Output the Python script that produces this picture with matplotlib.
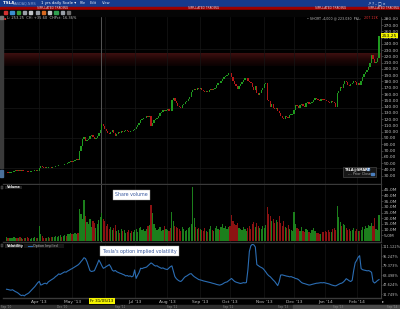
import numpy as np
import pandas as pd
import matplotlib
matplotlib.use("Agg")
import matplotlib.pyplot as plt
from matplotlib.colors import LinearSegmentedColormap
from matplotlib.patches import Rectangle

# trading days on the chart: Feb 27 2013 .. Feb 25 2014
holidays = ["2013-03-29", "2013-05-27", "2013-07-04", "2013-09-02", "2013-11-28",
            "2013-12-25", "2014-01-01", "2014-01-20", "2014-02-17"]
dates = pd.bdate_range("2013-02-27", "2014-02-25")
dates = dates[~dates.isin(pd.to_datetime(holidays))]

# daily closes (USD), month by month
close_feb = [34.8, 34.2]
close_mar = [34.4, 35.0, 36.2, 37.5, 38.1, 37.7, 38.4, 37.9, 38.0, 37.6, 37.1, 37.4, 36.2, 35.8,
             36.3, 36.9, 37.4, 38.0, 37.3, 37.9]
close_apr = [42.8, 44.5, 43.1, 42.4, 42.2, 42.7, 43.3, 43.0, 42.8, 43.5, 44.2, 45.1, 45.6, 46.4,
             47.0, 46.5, 47.6, 48.9, 48.3, 50.1, 51.6, 53.9]
close_may = [52.0, 53.3, 54.6, 55.8, 55.0, 69.4, 76.8, 87.8, 92.3, 84.8, 87.2, 89.1, 92.4, 94.6,
             91.5, 88.6, 90.3, 93.2, 97.8, 102.3, 112.5, 108.4]
close_jun = [104.7, 100.5, 97.3, 95.8, 99.4, 102.1, 98.6, 93.2, 96.0, 99.1, 97.5, 101.4, 99.2,
             100.9, 103.2, 101.3, 99.0, 101.8, 100.4, 102.7]
close_jul = [104.5, 107.9, 110.2, 113.6, 118.3, 119.8, 121.4, 122.6, 124.9, 123.2, 125.6, 109.8,
             114.6, 119.3, 120.8, 122.5, 125.7, 129.4, 131.2, 133.8, 132.6, 134.9]
close_aug = [135.7, 133.4, 132.6, 149.8, 153.5, 149.2, 145.7, 141.3, 139.6, 137.9, 141.8, 144.6,
             147.2, 149.5, 151.7, 155.3, 162.8, 166.9, 168.4, 167.1, 169.3, 168.2]
close_sep = [169.0, 166.4, 164.2, 162.7, 165.1, 163.6, 166.8, 168.3, 165.9, 167.4, 170.2, 174.8,
             178.3, 177.1, 180.6, 183.5, 186.4, 188.1, 190.9, 193.4]
close_oct = [193.0, 187.5, 181.2, 176.8, 173.4, 168.1, 172.6, 176.2, 179.4, 182.8, 184.9, 185.7,
             181.3, 178.6, 176.9, 171.2, 165.8, 172.4, 160.9, 158.2, 162.3, 166.7, 170.4]
close_nov = [176.8, 177.5, 151.2, 148.3, 139.8, 143.6, 137.2, 135.9, 137.8, 132.4, 129.1, 125.3,
             121.6, 120.2, 124.4, 122.8, 121.5, 126.7, 127.3, 128.9]
close_dec = [134.6, 141.8, 140.6, 137.4, 142.3, 144.1, 141.5, 139.8, 145.6, 147.3, 143.9, 145.8,
             147.9, 151.2, 153.6, 152.1, 150.4, 149.6, 151.3, 150.5, 150.4]
close_jan = [149.8, 149.6, 147.2, 145.9, 149.3, 148.1, 145.7, 139.3, 161.3, 164.1, 171.5, 170.0,
             176.7, 180.9, 178.6, 174.6, 172.2, 175.5, 178.3, 181.4, 179.8]
close_feb14 = [174.6, 178.2, 175.1, 180.4, 187.6, 191.3, 195.8, 198.9, 203.7, 210.2, 222.4, 215.6,
               209.6, 211.2, 217.65, 253.25]
first_open = 34.0

# share volume (millions)
vol_feb = [3.1, 2.6]
vol_mar = [2.4, 3.0, 2.8, 3.5, 2.9, 2.2, 2.6, 3.1, 2.4, 2.0, 2.7, 2.5, 3.3, 2.8, 2.1, 2.4, 2.9,
           3.2, 2.6, 2.3]
vol_apr = [13.2, 6.1, 4.2, 3.0, 2.6, 2.4, 3.5, 2.8, 3.1, 3.9, 3.3, 4.4, 3.8, 4.1, 4.9, 3.6, 4.5,
           5.2, 4.1, 5.8, 6.4, 7.3]
vol_may = [6.2, 5.7, 6.9, 5.8, 7.4, 27.8, 24.1, 19.5, 36.2, 22.3, 16.8, 14.5, 19.1, 12.4, 17.3,
           15.6, 11.8, 14.7, 18.2, 21.3, 24.6, 19.4]
vol_jun = [17.5, 13.2, 15.1, 10.6, 12.4, 9.3, 11.1, 13.6, 8.8, 9.7, 7.4, 10.5, 8.6, 9.9, 7.2, 8.1,
           9.4, 6.8, 8.9, 7.6]
vol_jul = [9.8, 10.6, 8.3, 11.2, 12.7, 9.4, 10.8, 8.7, 10.1, 12.9, 14.2, 31.6, 24.3, 14.8, 11.6,
           9.3, 10.7, 12.4, 8.9, 9.6, 13.1, 10.2]
vol_aug = [9.7, 8.8, 11.4, 25.7, 17.6, 13.4, 12.5, 11.8, 10.3, 9.1, 12.6, 10.4, 8.7, 9.8, 11.3,
           12.1, 14.5, 47.2, 19.8, 12.4, 10.8, 11.6]
vol_sep = [10.2, 9.4, 8.7, 11.5, 9.1, 8.3, 10.6, 12.8, 9.7, 8.9, 11.2, 13.4, 10.1, 9.5, 12.3, 14.6,
           11.7, 13.2, 10.8, 12.5]
vol_oct = [12.8, 23.1, 17.4, 15.2, 13.8, 15.9, 11.4, 10.7, 9.6, 12.2, 10.3, 9.1, 11.8, 13.5, 10.9,
           14.7, 16.3, 12.1, 15.8, 13.2, 11.6, 10.4, 12.9]
vol_nov = [11.3, 14.2, 29.6, 24.1, 21.5, 17.2, 19.4, 15.8, 18.6, 16.3, 22.1, 15.4, 13.2, 17.8, 12.6,
           11.4, 13.9, 10.5, 9.8, 8.6]
vol_dec = [25.2, 15.1, 11.8, 10.4, 9.2, 12.6, 8.9, 7.8, 10.3, 9.6, 8.1, 7.4, 9.9, 11.2, 8.6, 7.3,
           6.9, 5.8, 6.4, 7.9, 8.2]
vol_jan = [8.5, 7.9, 9.3, 8.1, 7.6, 10.2, 11.8, 9.4, 30.7, 21.4, 16.5, 12.8, 15.1, 14.3, 11.2, 9.7,
           10.6, 8.9, 9.8, 11.4, 8.7]
vol_feb14 = [10.3, 9.1, 8.6, 9.8, 12.4, 10.7, 13.5, 11.2, 14.1, 12.8, 15.6, 13.4, 19.8, 10.7, 9.6,
             22.4]

# option implied volatility (%)
iv_feb = [40.2, 39.8]
iv_mar = [39.1, 38.6, 39.4, 37.8, 36.2, 35.1, 33.4, 31.2, 29.6, 30.4, 29.1, 31.3, 32.5, 34.1, 36.8,
          39.5, 42.0, 44.6, 47.9, 51.2]
iv_apr = [53.4, 47.2, 48.1, 49.6, 50.3, 49.1, 52.4, 54.2, 55.8, 57.3, 59.1, 61.5, 63.2, 65.8, 64.9,
          66.4, 67.8, 69.2, 68.7, 70.5, 71.8, 73.4]
iv_may = [74.6, 76.2, 77.9, 79.4, 80.8, 83.1, 86.4, 89.2, 92.8, 91.4, 86.2, 78.5, 71.3, 69.8, 70.4,
          71.2, 76.8, 82.5, 88.9, 84.6, 79.3, 75.1]
iv_jun = [76.4, 78.2, 79.6, 81.3, 77.4, 72.1, 70.3, 71.6, 69.4, 68.2, 67.1, 66.3, 65.1, 64.2, 62.4,
          63.1, 61.8, 62.5, 60.9, 62.2]
iv_jul = [72.4, 58.3, 63.5, 68.1, 75.2, 74.6, 75.8, 76.4, 77.2, 79.6, 81.8, 84.1, 82.6, 80.3, 78.9,
          79.4, 77.6, 76.3, 75.1, 75.8, 74.4, 73.6]
iv_aug = [73.1, 75.6, 77.8, 79.2, 70.4, 61.3, 57.8, 55.6, 53.9, 53.2, 55.4, 58.7, 61.2, 62.4, 64.1,
          65.8, 66.2, 63.4, 61.2, 59.6, 57.8, 56.4]
iv_sep = [55.8, 55.1, 54.2, 53.6, 53.1, 52.4, 51.8, 51.2, 50.4, 49.8, 49.1, 48.2, 47.6, 47.1, 47.8,
          48.9, 50.6, 51.8, 52.4, 54.3]
iv_oct = [56.1, 58.2, 55.7, 53.4, 52.1, 51.3, 50.6, 49.8, 50.4, 51.2, 50.8, 51.4, 72.6, 103.5,
          112.8, 115.1, 114.2, 110.6, 81.4, 79.6, 77.8, 76.4, 75.1]
iv_nov = [72.3, 69.1, 65.4, 62.8, 61.1, 58.3, 55.6, 53.2, 49.7, 46.3, 52.8, 63.9, 64.2, 63.5, 62.8,
          62.1, 61.7, 60.9, 61.3, 60.2]
iv_dec = [59.4, 58.1, 57.6, 56.2, 53.8, 51.4, 50.2, 49.6, 48.8, 47.9, 47.2, 47.5, 48.3, 48.9, 49.6,
          50.2, 50.4, 50.8, 51.2, 50.9, 51.3]
iv_jan = [50.7, 50.1, 49.4, 48.6, 47.5, 46.8, 46.1, 45.9, 47.2, 48.6, 49.8, 50.4, 52.1, 54.6, 57.8,
          56.2, 54.3, 53.1, 55.2, 71.5, 84.3]
iv_feb14 = [88.4, 93.5, 96.2, 74.6, 72.8, 72.1, 71.6, 70.9, 71.3, 70.2, 68.4, 53.1, 50.6, 52.4,
            54.8, 56.3]

price_ticks = list(range(30, 290, 10))
volume_ticks = [5, 10, 15, 20, 25, 30, 35, 40, 45]
iv_ticks = [31.749, 47.624, 63.498, 79.373, 95.247, 111.122]

closes = np.array(close_feb + close_mar + close_apr + close_may + close_jun + close_jul + close_aug
                  + close_sep + close_oct + close_nov + close_dec + close_jan + close_feb14)
volume = np.array(vol_feb + vol_mar + vol_apr + vol_may + vol_jun + vol_jul + vol_aug + vol_sep
                  + vol_oct + vol_nov + vol_dec + vol_jan + vol_feb14)
iv = np.array(iv_feb + iv_mar + iv_apr + iv_may + iv_jun + iv_jul + iv_aug + iv_sep + iv_oct
              + iv_nov + iv_dec + iv_jan + iv_feb14)
n = len(dates)
closes, volume, iv = closes[:n], volume[:n], iv[:n]
idx = np.arange(n)

opens = np.r_[first_open, closes[:-1]]     # each bar opens at the prior close
up = closes >= opens
GREEN, RED = "#1f9a1f", "#b51818"
VGREEN, VRED = "#1c7f1c", "#8c1212"
TXT = "#bdbdbd"

# bar index of the first session of every month, for the date axis
month_first = pd.Series(idx, index=dates).groupby(dates.to_period("M")).first()
month_first = month_first[month_first.index >= pd.Period("2013-04", "M")]
month_labels = [p.strftime("%b '%y") for p in month_first.index]

XMIN, XMAX = -2.35, 251.0

fig = plt.figure(figsize=(4, 3.09), dpi=100, facecolor="black")


def frame(top, bottom, left=3, right=380.5):
    return [left / 400, 1 - bottom / 309, (right - left) / 400, (bottom - top) / 309]


ax1 = fig.add_axes(frame(16, 183.5))
ax2 = fig.add_axes(frame(184.5, 242))
ax3 = fig.add_axes(frame(243.5, 298))

# resistance band behind the candles
band = LinearSegmentedColormap.from_list("band", ["#0a0202", "#1e0606", "#3e1010"])
ax1.imshow(np.linspace(0, 1, 60).reshape(-1, 1), extent=(XMIN, XMAX, 204, 223.5), origin="lower",
           cmap=band, aspect="auto", zorder=0)

# candles
ax1.bar(idx, np.maximum(np.abs(closes - opens), 0.9), bottom=np.minimum(opens, closes), width=0.85,
        color=np.where(up, GREEN, RED), linewidth=0, zorder=3)
ax1.set_ylim(17.4, 284.4)
ax1.set_yticks(price_ticks, [f"{v:.2f}" for v in price_ticks])
for g in [42.5, 90, 137.5, 185, 232.5]:
    ax1.axhline(g, color="#171717", lw=0.5, zorder=1)

# volume bars
ax2.bar(idx, volume, width=0.8, color=np.where(up, VGREEN, VRED), linewidth=0, zorder=3)
ax2.set_ylim(-0.9, 49.6)
ax2.set_yticks(volume_ticks, [f"{v:.1f}M" for v in volume_ticks])

# implied volatility
ax3.plot(idx, iv, color="#2b6db3", lw=0.8, zorder=3)
ax3.set_ylim(25.6, 116.5)
ax3.set_yticks(iv_ticks, [f"{v:.3f}%" for v in iv_ticks])

for ax in (ax1, ax2, ax3):
    ax.set_facecolor("black")
    ax.set_xlim(XMIN, XMAX)
    ax.yaxis.tick_right()
    ax.tick_params(axis="y", colors="#666666", labelcolor=TXT, labelsize=3.2, length=1.2,
                   width=0.4, pad=1)
    ax.tick_params(axis="x", length=0, labelsize=3.2, labelcolor=TXT, pad=1.2)
    for s in ("left", "top"):
        ax.spines[s].set_visible(False)
    ax.spines["right"].set_color("#4a4a4a")
    ax.spines["right"].set_linewidth(0.6)
    ax.spines["bottom"].set_color("#3a3a3a")
    ax.spines["bottom"].set_linewidth(1.0)
    for m in month_first.values:
        ax.axvline(m, color="#161616", lw=0.5, zorder=1)

for ax in (ax1, ax2):
    ax.axvline(63.4, color="#555555", lw=0.7, zorder=2)   # crosshair

ax3.tick_params(axis="y", labelsize=2.5, length=0.8, pad=0.6)

ax1.set_xticks([])
ax2.set_xticks([])
ax3.set_xticks(month_first.values, [("" if l == "Jun '13" else l) for l in month_labels])

# current price tag on the price axis
ax1.text(1.004, closes[-1], f"{closes[-1]:.2f}", transform=ax1.get_yaxis_transform(),
         fontsize=3.2, color="black", va="center", ha="left",
         bbox=dict(boxstyle="square,pad=0.15", fc="#f2f200", ec="none"))

# window chrome drawn in pixel coordinates
ov = fig.add_axes([0, 0, 1, 1], zorder=10)
ov.set_xlim(0, 400)
ov.set_ylim(309, 0)
ov.axis("off")
ov.patch.set_alpha(0)

ov.add_patch(Rectangle((0, 0), 400, 6.5, color="#163a8c"))
ov.add_patch(Rectangle((0, 6.5), 400, 3.2, color="#9c0000"))
ov.add_patch(Rectangle((0, 9.7), 400, 6.3, color="#050505"))
ov.text(3, 3.3, "TSLA", fontsize=3, color="white", weight="bold", va="center")
ov.text(13, 3.3, "NASDAQ.NMS", fontsize=2.4, color="#8da2d0", va="center")
ov.text(41, 3.3, "1 yrs daily Scale \u25be", fontsize=2.8, color="white", va="center")
for x, t in [(80, "File"), (90, "Edit"), (102, "View")]:
    ov.text(x, 3.3, t, fontsize=2.6, color="#dfe6f5", va="center")
ov.text(368, 3.3, "\u2197 ? \u2013 \u25a1 \u00d7", fontsize=2.6, color="white", va="center")
for x in (53, 204, 331):
    ov.text(x, 8.1, "SIMULATED TRADING", fontsize=2.2, color="#f0c8c8", va="center", ha="center")
ov.text(399, 8.1, "SIMULATED TRADING", fontsize=2.2, color="#f0c8c8", va="center", ha="right")
for k, c in enumerate(["#d23030", "#3a8fd0", "#3aa03a", "#9aa0a8", "#c0c4c8", "#9aa0a8",
                       "#d86a20", "#c0c4c8", "#30a050", "#9aa0a8", "#707070"]):
    ov.add_patch(Rectangle((4 + k * 6.3, 11.2), 3.2, 3.2, color=c))

ov.add_patch(Rectangle((0, 16), 2.6, 152, color="#3a3a3a"))
ov.add_patch(Rectangle((0, 16), 2.6, 3, color="#777777"))
ov.add_patch(Rectangle((0, 170), 2.6, 7, color="#4a6f9a"))

ov.text(4, 18.4, "\u25aa", fontsize=2.6, color="#d03030", va="center")
ov.text(7, 18.4, "L: 253.25  CH: +35.60  CHPct: 16.36%", fontsize=2.6, color=TXT, va="center")
ov.text(361, 18.4, "\u2022 SHORT -4,000 @ 223.030  P&L:", fontsize=2.3, color=TXT, va="center",
        ha="right")
ov.text(364, 18.4, "-207.12K", fontsize=2.3, color="#e03030", va="center")

# legend box of the price panel
ov.add_patch(Rectangle((343, 166.7), 33, 10, fc="#161616", ec="#555555", lw=0.4))
ov.text(345, 169.3, "TSLA@SMART", fontsize=2.4, color="white", weight="bold", va="center")
ov.text(348, 174.2, "--- Prior Close", fontsize=2.4, color="#aaaaaa", va="center")
ov.add_patch(Rectangle((371, 172.7), 2.6, 2.6, color="#4a7fc0"))
ov.add_patch(Rectangle((367, 167.9), 2.4, 2.4, color="#4a7fc0"))

# panel headers
for y, t in [(187.2, "Volume"), (245.8, "Volatility")]:
    ov.add_patch(Rectangle((0.5, y - 1.6), 2.6, 3.2, fc="#2a2a2a", ec="#666666", lw=0.3))
    ov.add_patch(Rectangle((5, y - 1.7), 17, 3.4, fc="#222222", ec="none"))
    ov.text(6.5, y, t, fontsize=2.4, color="#e8e8e8", weight="bold", va="center")
ov.add_patch(Rectangle((24, 244.1), 40, 3.4, fc="#151515", ec="none"))
ov.plot([28, 32], [245.8, 245.8], color="#2b6db3", lw=0.8)
ov.text(33, 245.8, "Option Implied", fontsize=2.4, color="#bbbbbb", va="center")

# call-out labels
ov.text(131.5, 194.8, "Share volume", fontsize=3.4, color="#3a5aa0", ha="center", va="center",
        bbox=dict(boxstyle="square,pad=0.5", fc="white", ec="#999999", lw=0.3))
ov.text(139.5, 251.0, "Tesla's option implied volatility", fontsize=3.4, color="#3a5aa0",
        ha="center", va="center",
        bbox=dict(boxstyle="square,pad=0.5", fc="white", ec="#999999", lw=0.3))

# crosshair date tag on the date axis
ov.text(102, 301.2, "Fr 31/05/13", fontsize=3, color="black", ha="center", va="center",
        bbox=dict(boxstyle="square,pad=0.2", fc="#f2f200", ec="none"))
ov.text(382, 301.2, "\u25b8", fontsize=3, color=TXT, va="center")

# scroll bar under the dates
ov.add_patch(Rectangle((0, 304.5), 400, 4.5, color="#2e2e2e"))
ov.add_patch(Rectangle((293, 304.5), 107, 4.5, color="#4a4a4a"))
for x, t in [(6, "Sep '10"), (62, "Dec '10"), (120, "Sep '11"), (172, "Sep '12"), (228, "Sep '12"),
             (283, "Sep '13"), (338, "Sep '13"), (392, "Sep '14")]:
    ov.text(x, 306.8, t, fontsize=2.0, color="#8a8a8a", ha="center", va="center")

fig.savefig("out.png", dpi=100, facecolor="black")
